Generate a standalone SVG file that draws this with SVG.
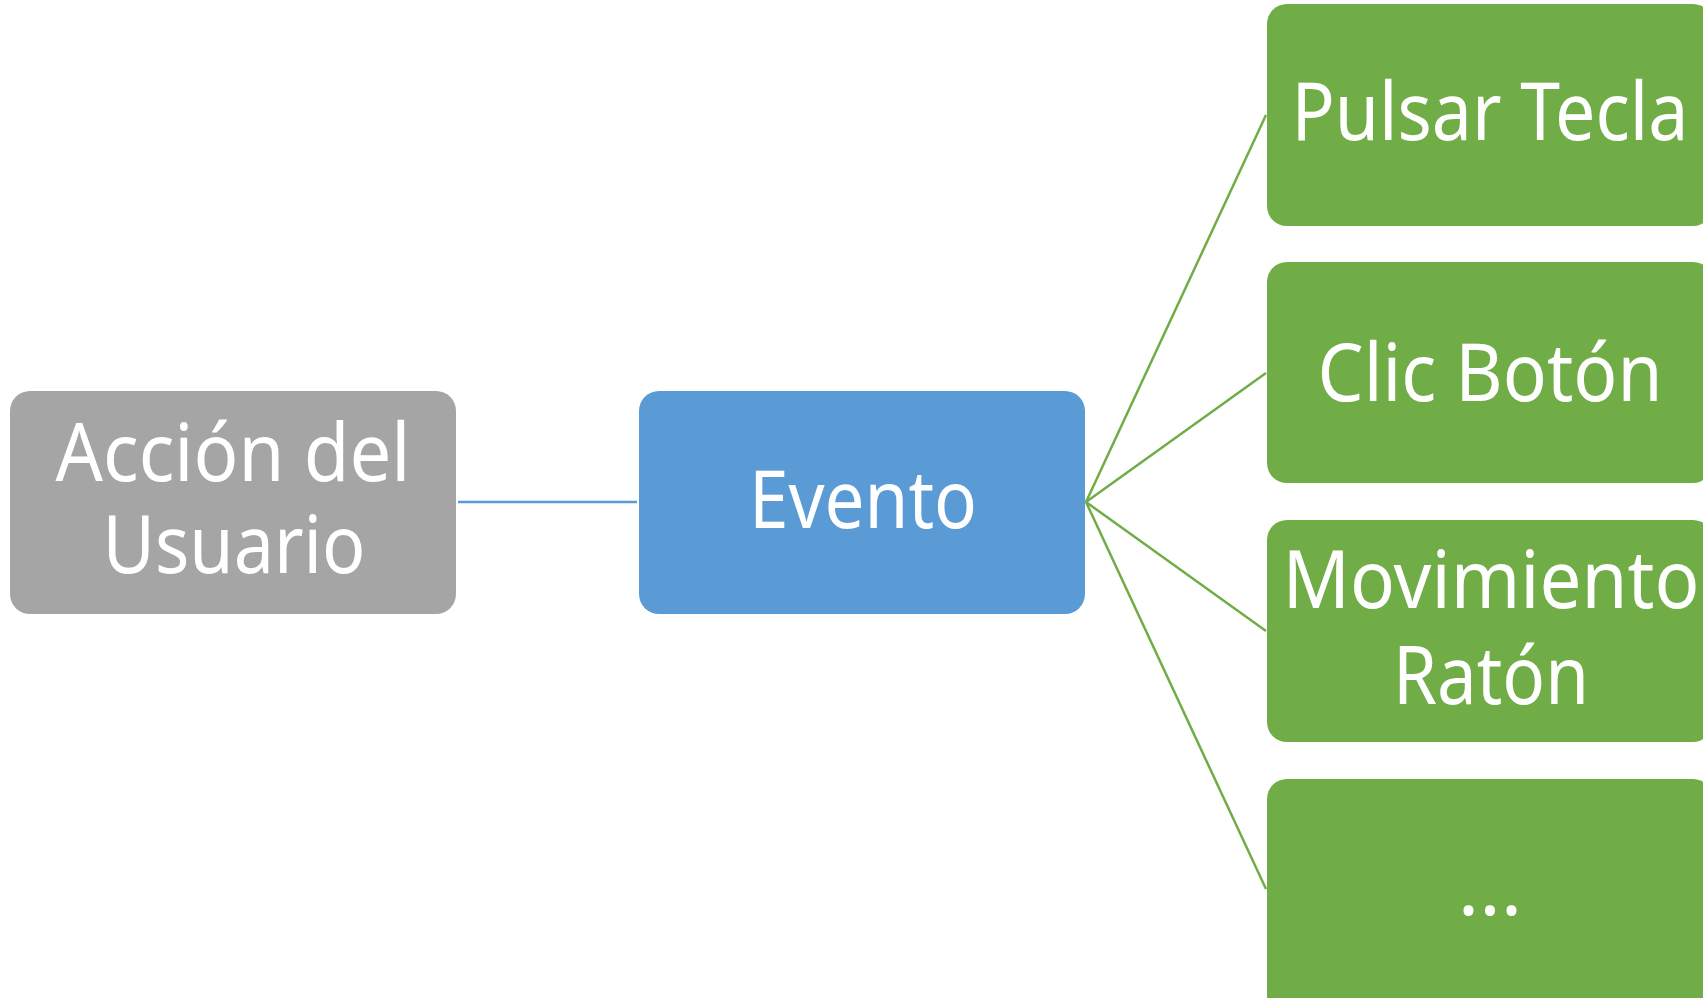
<svg xmlns="http://www.w3.org/2000/svg" width="1703" height="998" viewBox="0 0 1703 998">
<style>
.box{stroke:none}
.gray{fill:#A5A5A5}
.blue{fill:#5B9BD5}
.green{fill:#70AD47}
.lbl{font-family:"Noto Sans","Open Sans","DejaVu Sans",sans-serif;font-size:80px;fill:#FFFFFF;text-anchor:middle}
.cb{stroke:#5B9BD5;stroke-width:2.5;fill:none}
.cg{stroke:#70AD47;stroke-width:2.5;fill:none}
</style>
<rect width="1703" height="998" fill="#FFFFFF"/>
<g id="connectors">
<line class="cb" x1="458" y1="502" x2="637" y2="502"/>
<line class="cg" x1="1086" y1="502" x2="1266" y2="115"/>
<line class="cg" x1="1086" y1="502" x2="1266" y2="373"/>
<line class="cg" x1="1086" y1="502" x2="1266" y2="631"/>
<line class="cg" x1="1086" y1="502" x2="1266" y2="889"/>
</g>
<g id="accion">
<rect class="box gray" x="10" y="391" width="446" height="223" rx="20"/>
<text class="lbl" x="233" y="481" textLength="355" lengthAdjust="spacingAndGlyphs">Acción del</text>
<text class="lbl" x="234" y="573" textLength="263" lengthAdjust="spacingAndGlyphs">Usuario</text>
</g>
<g id="evento">
<rect class="box blue" x="639" y="391" width="446" height="223" rx="20"/>
<text class="lbl" x="863" y="528" textLength="228" lengthAdjust="spacingAndGlyphs">Evento</text>
</g>
<g id="pulsar">
<rect class="box green" x="1267" y="4" width="446" height="222" rx="20"/>
<text class="lbl" x="1490" y="140" textLength="397" lengthAdjust="spacingAndGlyphs">Pulsar Tecla</text>
</g>
<g id="clic">
<rect class="box green" x="1267" y="262" width="446" height="221" rx="20"/>
<text class="lbl" x="1490" y="401" textLength="345" lengthAdjust="spacingAndGlyphs">Clic Botón</text>
</g>
<g id="movimiento">
<rect class="box green" x="1267" y="520" width="446" height="222" rx="20"/>
<text class="lbl" x="1491" y="608" textLength="417" lengthAdjust="spacingAndGlyphs">Movimiento</text>
<text class="lbl" x="1491" y="704" textLength="196" lengthAdjust="spacingAndGlyphs">Ratón</text>
</g>
<g id="otros">
<rect class="box green" x="1267" y="779" width="446" height="240" rx="20"/>
<text class="lbl" x="1490" y="915">...</text>
</g>
</svg>
